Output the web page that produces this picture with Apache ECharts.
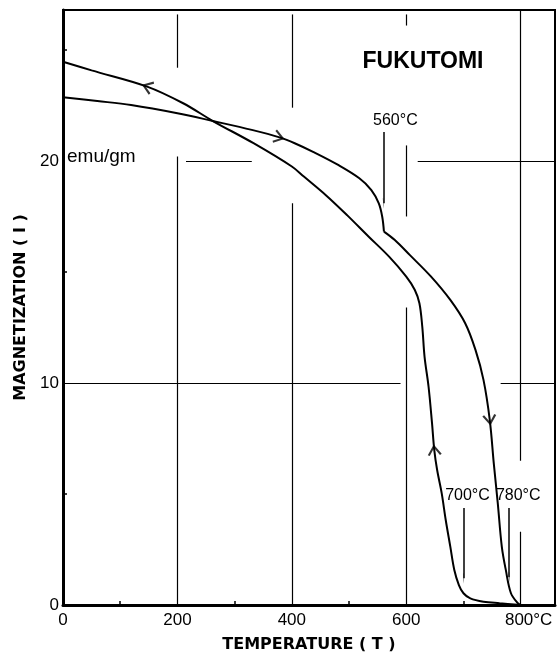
<!DOCTYPE html>
<html><head><meta charset="utf-8">
<script src="https://cdn.jsdelivr.net/npm/echarts@6/dist/echarts.min.js"></script>
<style>html,body{margin:0;padding:0;background:#fff}#c{width:558px;height:663px}</style>
</head><body><div id="c"></div>
<script>
// Heating curve (arrows pointing to higher temperature)
const heatT = [0,60,119,200,262,330,380,405,438,481,518,539,552,558,561,580,606,643,677,703,721,735,746,753,760,767,774,783,795,800];
const heatI = [22.87,22.7,22.52,22.15,21.8,21.4,21.05,20.8,20.4,19.82,19.22,18.69,18.09,17.49,16.82,16.44,15.77,14.8,13.74,12.69,11.49,10.14,8.33,6.38,4.58,2.63,1.58,0.53,0.08,0];
// Cooling curve (arrows pointing to lower temperature)
const coolT = [0,50,147,210,262,333,400,421,460,497,534,570,600,615,623,628,632,639,645,649,654,662,669,677,684,692,700,712,735,763,800];
const coolI = [24.47,24.08,23.35,22.6,21.8,20.8,19.75,19.3,18.45,17.55,16.6,15.69,14.79,14.19,13.59,12.54,11.18,9.83,8.2,6.98,6.08,5.03,3.83,2.63,1.58,0.9,0.53,0.3,0.15,0.08,0];
const xTickLabels = [0,200,400,600,800];
const xMinorTicks = [100,300,500,700];
const yTickLabels = [0,10,20];
const yMinorTicks = [5,15,25];
const curieT = [560,700,780];
const curieLabels = ['560°C','700°C','780°C'];
const heatArrowT = [378,746];
const coolArrowT = [147,649];

const FONT = 'Liberation Sans';
const TFONT = 'DejaVu Sans';
const V = 'path://M6,0 L12,9 L10.4,10 L6,3.2 L1.6,10 L0,9 Z';
const kink = heatT.indexOf(561);
const pairs = (xs, ys, a, b) => xs.slice(a, b).map((t, i) => [t, ys[a + i]]);
const heatA = pairs(heatT, heatI, 0, kink + 1);
const heatB = pairs(heatT, heatI, kink, heatT.length);
const cool = pairs(coolT, coolI, 0, coolT.length);
function interp(xs, ys, t) {
  for (let i = 0; i < xs.length - 1; i++) {
    if (t >= xs[i] && t <= xs[i + 1]) {
      const f = (t - xs[i]) / (xs[i + 1] - xs[i]);
      return ys[i] + f * (ys[i + 1] - ys[i]);
    }
  }
  return ys[ys.length - 1];
}
const black = '#000';
const lineStyle = {color: black, width: 2};

const gridSegs = [
  [[200,26.6],[200,24.2]], [[200,20.2],[200,0]],
  [[400,26.6],[400,22.4]], [[400,18.1],[400,0]],
  [[600,26.6],[600,26.1]], [[600,20.7],[600,17.5]], [[600,13.4],[600,0]],
  [[800,26.8],[800,6.5]], [[800,3.3],[800,0]],
  [[215,20],[330,20]], [[620,20],[860,20]],
  [[0,10],[590,10]], [[765,10],[860,10]]
];
const pointerRanges = [[21.3,18.1],[4.37,1.2],[4.37,1.25]];
const pointerPad = [24,8,18];

const chart = echarts.init(document.getElementById('c'));
const option = {
  animation: false,
  backgroundColor: '#fff',
  textStyle: {fontFamily: FONT},
  grid: {left: 63, top: 10, right: 3, bottom: 58, show: true, borderColor: black, borderWidth: 2},
  graphic: [
    {type: 'text', x: 423, y: 62, style: {text: 'FUKUTOMI', font: 'bold 23px ' + FONT, fill: black, align: 'center', verticalAlign: 'middle'}},
    {type: 'text', x: 67, y: 157, style: {text: 'emu/gm', font: '19px ' + FONT, fill: black, align: 'left', verticalAlign: 'middle'}}
  ],
  xAxis: {
    type: 'value', min: 0, max: 860, interval: 100,
    axisLine: {show: true, onZero: false, lineStyle: {color: black, width: 3}},
    axisTick: {show: true, inside: true, length: 4, customValues: xMinorTicks, lineStyle: {color: black, width: 1.5}},
    splitLine: {show: false},
    axisLabel: {
      color: black, fontSize: 17, margin: 7, customValues: xTickLabels,
      formatter: v => v === 800 ? '{r|800°C}' : String(v),
      rich: {r: {fontSize: 17, color: black, padding: [0, 0, 0, 16]}}
    },
    name: 'TEMPERATURE ( T )', nameLocation: 'middle', nameGap: 32,
    nameTextStyle: {color: black, fontSize: 16, fontWeight: 'bold', fontFamily: TFONT}
  },
  yAxis: {
    type: 'value', min: 0, max: 26.8, interval: 5,
    axisLine: {show: true, onZero: false, lineStyle: {color: black, width: 3}},
    axisTick: {show: true, inside: true, length: 4, customValues: yMinorTicks, lineStyle: {color: black, width: 1.5}},
    splitLine: {show: false},
    axisLabel: {color: black, fontSize: 17, margin: 4, customValues: yTickLabels,
      formatter: v => String(v)},
    name: 'MAGNETIZATION ( I )', nameLocation: 'middle', nameGap: 34,
    nameTextStyle: {color: black, fontSize: 16, fontWeight: 'bold', fontFamily: TFONT}
  },
  series: [
    {type: 'line', data: heatA, smooth: 0.35, symbol: 'none', lineStyle, z: 3,
      markLine: {
        silent: true, symbol: ['none', V], symbolSize: [1, 11],
        lineStyle: {color: black, width: 1.5, type: 'solid'},
        data: curieT.map((t, i) => [
          {coord: [t, pointerRanges[i][0]], name: curieLabels[i],
            label: {show: true, position: 'start', formatter: '{b}', distance: 4, color: black,
              fontSize: 16, fontFamily: FONT, padding: [0, 0, 0, pointerPad[i]]}},
          {coord: [t, pointerRanges[i][1]]}
        ])
      }
    },
    {type: 'line', data: heatB, smooth: 0.35, symbol: 'none', lineStyle, z: 3},
    {type: 'line', data: cool, smooth: 0.35, symbol: 'none', lineStyle, z: 3,
      markLine: {
        silent: true, symbol: ['none', 'none'], label: {show: false},
        lineStyle: {color: black, width: 1.2, type: 'solid'},
        data: gridSegs.map(s => [{coord: s[0]}, {coord: s[1]}])
      }
    },
    {type: 'scatter', data: [], symbol: V, symbolSize: [14, 11], itemStyle: {color: black}, z: 4, silent: true}
  ]
};
chart.setOption(option);

function arrowItem(xs, ys, t, dir) {
  const y = interp(xs, ys, t);
  const p0 = chart.convertToPixel({gridIndex: 0}, [t - 3, interp(xs, ys, t - 3)]);
  const p1 = chart.convertToPixel({gridIndex: 0}, [t + 3, interp(xs, ys, t + 3)]);
  const dx = (p1[0] - p0[0]) * dir, dy = (p1[1] - p0[1]) * dir;
  const rot = Math.atan2(-dy, dx) * 180 / Math.PI - 90;
  return {value: [t, y], symbolRotate: rot};
}
const arrows = heatArrowT.map(t => arrowItem(heatT, heatI, t, 1))
  .concat(coolArrowT.map(t => arrowItem(coolT, coolI, t, -1)));
chart.setOption({series: [{}, {}, {}, {data: arrows}]});
</script>
</body></html>
